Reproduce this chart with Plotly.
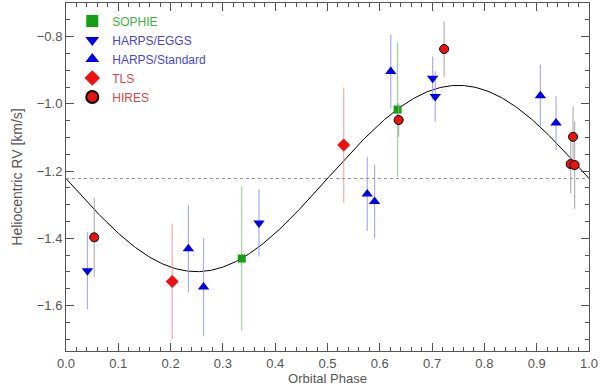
import numpy as np
import plotly.graph_objects as go

# orbit model
gamma = -1.222
K = 0.277

sophie_phase = [0.336, 0.634]
sophie_rv = [-1.46, -1.017]
sophie_err = [0.215, 0.20]

eggs_phase = [0.041, 0.369, 0.701, 0.706]
eggs_rv = [-1.496, -1.354, -0.924, -0.978]
eggs_err = [0.114, 0.10, 0.065, 0.075]

std_phase = [0.234, 0.263, 0.576, 0.590, 0.621, 0.907, 0.937]
std_rv = [-1.431, -1.545, -1.268, -1.290, -0.904, -0.976, -1.057]
std_err = [0.13, 0.146, 0.11, 0.109, 0.11, 0.092, 0.08]

tls_phase = [0.203, 0.531]
tls_rv = [-1.528, -1.122]
tls_err = [0.172, 0.171]

hires_phase = [0.054, 0.636, 0.723, 0.9695, 0.965, 0.9725]
hires_rv = [-1.397, -1.048, -0.837, -1.098, -1.179, -1.182]
hires_err = [0.118, 0.05, 0.083, 0.09, 0.086, 0.13]

ph = np.linspace(0, 1, 400)
model = gamma - K * np.sin(2 * np.pi * ph)

fig = go.Figure()

fig.add_trace(go.Scatter(x=ph, y=model, mode="lines", line=dict(color="black", width=1),
                         showlegend=False, hoverinfo="skip"))


def errs(x, y, e, sym, col, ecol, name, size, lc=None):
    fig.add_trace(go.Scatter(
        x=x, y=y, mode="markers",
        name=name,
        marker=dict(symbol=sym, color=col, size=size,
                    line=dict(color=lc or col, width=1 if lc else 0)),
        error_y=dict(type="data", array=e, color=ecol, thickness=1.2, width=0),
    ))


errs(sophie_phase, sophie_rv, sophie_err, "square", "#10a010", "rgba(130,205,130,0.8)",
     "<span style='color:#3cb43c'>SOPHIE</span>", 8)
errs(eggs_phase, eggs_rv, eggs_err, "triangle-down", "#0000f0", "rgba(150,150,245,0.8)",
     "<span style='color:#4646dc'>HARPS/EGGS</span>", 10)
errs(std_phase, std_rv, std_err, "triangle-up", "#0000f0", "rgba(150,150,245,0.8)",
     "<span style='color:#4646dc'>HARPS/Standard</span>", 10)
errs(tls_phase, tls_rv, tls_err, "diamond", "#f01010", "rgba(245,150,150,0.8)",
     "<span style='color:#e04646'>TLS</span>", 10)
errs(hires_phase, hires_rv, hires_err, "circle", "#f01010", "rgba(160,160,160,0.8)",
     "<span style='color:#e04646'>HIRES</span>", 9, lc="black")

fig.add_hline(y=gamma, line=dict(color="#999999", width=1, dash="dot"))

axcommon = dict(showgrid=False, zeroline=False, showline=True, linecolor="#555555", linewidth=1,
                mirror="allticks", ticks="inside", ticklen=8, tickcolor="#555555",
                tickfont=dict(family="Liberation Sans", size=13, color="#555555"))

fig.update_xaxes(range=[0, 1], dtick=0.1, tickformat=".1f",
                 minor=dict(dtick=0.02, ticks="inside", ticklen=4, tickcolor="#555555"),
                 title=dict(text="Orbital Phase", font=dict(family="Liberation Sans", size=13, color="#555555"),
                            standoff=3),
                 **axcommon)
fig.update_yaxes(range=[-1.735, -0.70], dtick=0.2, tickformat=".1f",
                 minor=dict(dtick=0.05, ticks="inside", ticklen=4, tickcolor="#555555"),
                 title=dict(text="Heliocentric RV [km/s]", font=dict(family="Liberation Sans", size=14, color="#555555"),
                            standoff=10),
                 **axcommon)

fig.update_layout(
    width=600, height=390,
    margin=dict(l=66, r=11, t=3, b=39),
    plot_bgcolor="white", paper_bgcolor="white",
    legend=dict(x=0.012, y=0.99, xanchor="left", yanchor="top", bgcolor="rgba(0,0,0,0)",
                font=dict(family="Liberation Sans", size=12), tracegroupgap=0,
                itemwidth=30, itemsizing="constant"),
)

fig.write_html("out.html", config={"displayModeBar": False},
               post_script="document.body.style.margin='0';")
